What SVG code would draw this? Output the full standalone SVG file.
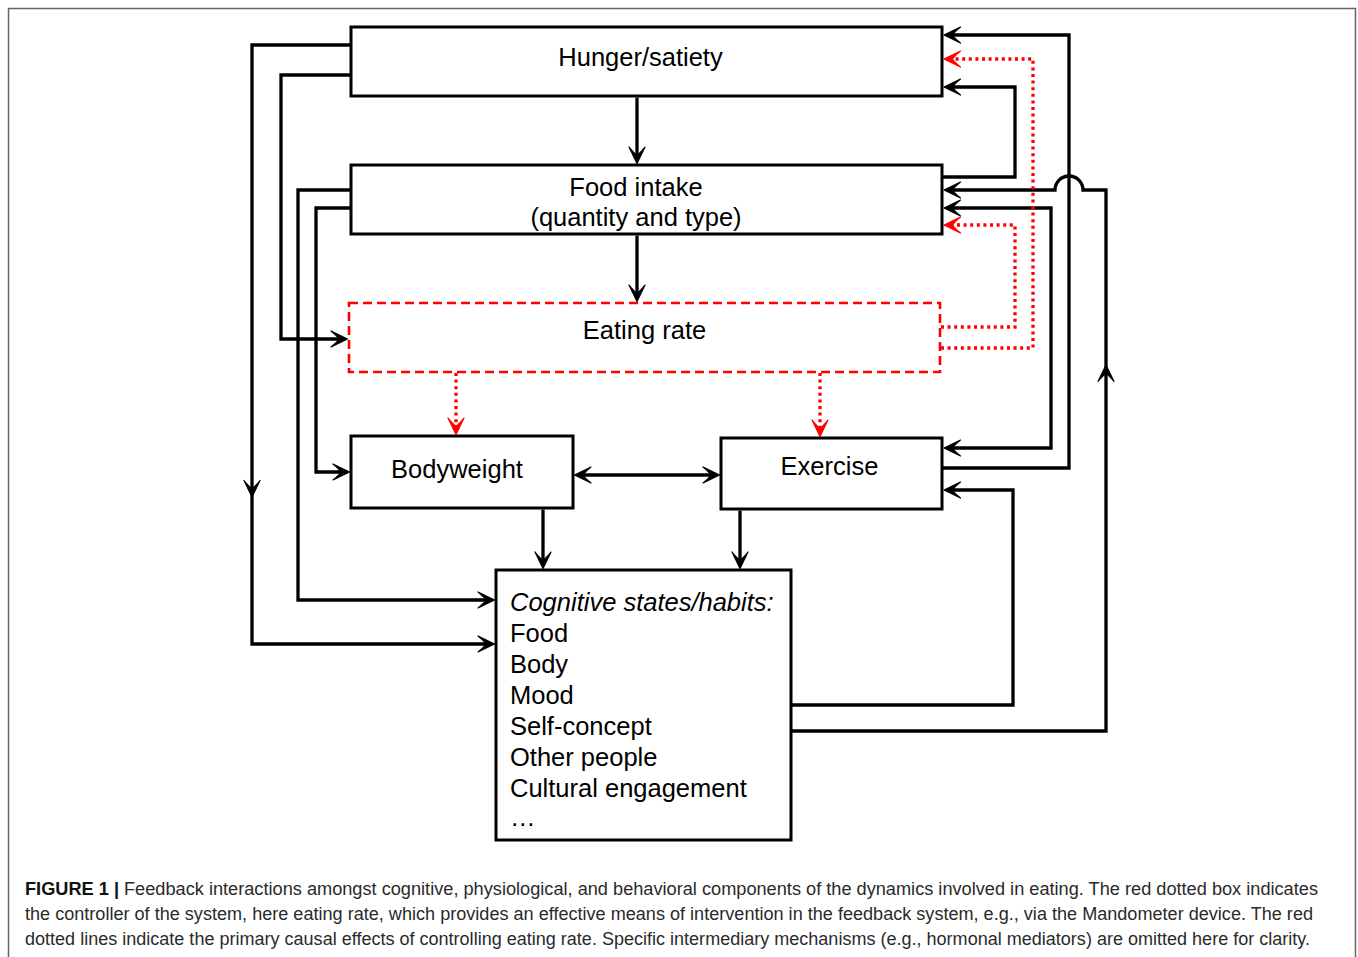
<svg xmlns="http://www.w3.org/2000/svg" width="1358" height="957" viewBox="0 0 1358 957">
<style>
.box{fill:#fff;stroke:#000;stroke-width:3}
.ctl{fill:#fff;stroke:#ff0000;stroke-width:2.6;stroke-dasharray:9 5}
.lbl{font-family:"Liberation Sans",Arial,sans-serif;font-size:25.5px;fill:#000}
.c{stroke:#000;stroke-width:3.3;fill:none;marker-end:url(#ah)}
.r{stroke:#ff0000;stroke-width:3.3;fill:none;stroke-dasharray:3 3.6;marker-end:url(#ahr)}
.cap{font-family:"Liberation Sans",Arial,sans-serif;font-size:17.5px;fill:#2a2a2a}
</style>
<defs>
<marker id="ah" markerUnits="userSpaceOnUse" viewBox="-19 -10 20 20" refX="-5" refY="0" markerWidth="20" markerHeight="20" orient="auto-start-reverse">
<path d="M0,0 L-16.5,-8 Q-10.5,-3.2 -8.5,0 Q-10.5,3.2 -16.5,8 Z" fill="#000" stroke="#000" stroke-width="1.2" stroke-linejoin="round"/>
</marker>
<marker id="ahr" markerUnits="userSpaceOnUse" viewBox="-19 -10 20 20" refX="-5" refY="0" markerWidth="20" markerHeight="20" orient="auto">
<path d="M0,0 L-16.5,-8 Q-10.5,-3.2 -8.5,0 Q-10.5,3.2 -16.5,8 Z" fill="#ff0000" stroke="#ff0000" stroke-width="1.2" stroke-linejoin="round"/>
</marker>
</defs>
<rect x="0" y="0" width="1358" height="957" fill="#fff"/>
<path d="M8.5,965 V8.5 H1355.5 V965" fill="none" stroke="#666" stroke-width="1.5"/>

<g id="connectors">
<path class="c" d="M637,97.5 V158.5"/>
<path class="c" d="M637,235.5 V296.5"/>
<path class="r" d="M456,373 V429.5"/>
<path class="r" d="M820,373 V431.5"/>
<path class="c" style="marker-start:url(#ah)" d="M579.5,475 H714.5"/>
<path class="c" d="M543,509.5 V563.5"/>
<path class="c" d="M740,510.5 V563.5"/>
<path class="c" d="M351,45 H252 V492"/>
<path class="c" d="M252,488 V644 H489.5"/>
<path class="c" d="M351,75 H281 V339 H342.5"/>
<path class="c" d="M351,190 H298 V600 H489.5"/>
<path class="c" d="M351,208 H316 V472 H344.5"/>
<path class="c" d="M942,177 H1015 V87 H949"/>
<path class="c" d="M942,468 H1069 V35 H949"/>
<path class="c" style="marker-start:url(#ah)" d="M949,208 H1051 V448 H949"/>
<path class="c" d="M791,731 H1106 V370"/>
<path class="c" d="M1106,374 V190 H1083 A14,14 0 0 0 1055,190 H949"/>
<path class="c" d="M791,705 H1013 V490 H949"/>
<path class="r" d="M941,327 H1015 V225 H949"/>
<path class="r" d="M941,348 H1033 V59 H949"/>
</g>

<g id="hunger">
<rect class="box" x="351" y="27" width="591" height="69"/>
<text class="lbl" x="640.5" y="66" text-anchor="middle">Hunger/satiety</text>
</g>
<g id="food-intake">
<rect class="box" x="351" y="165" width="591" height="69"/>
<text class="lbl" x="636" y="196" text-anchor="middle">Food intake</text>
<text class="lbl" x="636" y="226" text-anchor="middle">(quantity and type)</text>
</g>
<g id="eating-rate">
<rect class="ctl" x="349" y="303" width="591" height="69"/>
<text class="lbl" x="644.5" y="339" text-anchor="middle">Eating rate</text>
</g>
<g id="bodyweight">
<rect class="box" x="351" y="436" width="222" height="72"/>
<text class="lbl" x="457" y="478" text-anchor="middle">Bodyweight</text>
</g>
<g id="exercise">
<rect class="box" x="721" y="438" width="221" height="71"/>
<text class="lbl" x="829.5" y="475" text-anchor="middle">Exercise</text>
</g>
<g id="cognitive">
<rect class="box" x="496" y="570" width="295" height="270"/>
<text class="lbl" x="510" y="611" font-style="italic">Cognitive states/habits:</text>
<text class="lbl" x="510" y="642">Food</text>
<text class="lbl" x="510" y="673">Body</text>
<text class="lbl" x="510" y="704">Mood</text>
<text class="lbl" x="510" y="735">Self-concept</text>
<text class="lbl" x="510" y="766">Other people</text>
<text class="lbl" x="510" y="797">Cultural engagement</text>
<text class="lbl" x="510" y="826">…</text>
</g>

<g id="caption">
<text class="cap" x="25" y="895" textLength="1293" lengthAdjust="spacingAndGlyphs"><tspan font-weight="bold" fill="#111">FIGURE 1 |</tspan> Feedback interactions amongst cognitive, physiological, and behavioral components of the dynamics involved in eating. The red dotted box indicates</text>
<text class="cap" x="25" y="920" textLength="1288" lengthAdjust="spacingAndGlyphs">the controller of the system, here eating rate, which provides an effective means of intervention in the feedback system, e.g., via the Mandometer device. The red</text>
<text class="cap" x="25" y="945" textLength="1285" lengthAdjust="spacingAndGlyphs">dotted lines indicate the primary causal effects of controlling eating rate. Specific intermediary mechanisms (e.g., hormonal mediators) are omitted here for clarity.</text>
</g>
</svg>
